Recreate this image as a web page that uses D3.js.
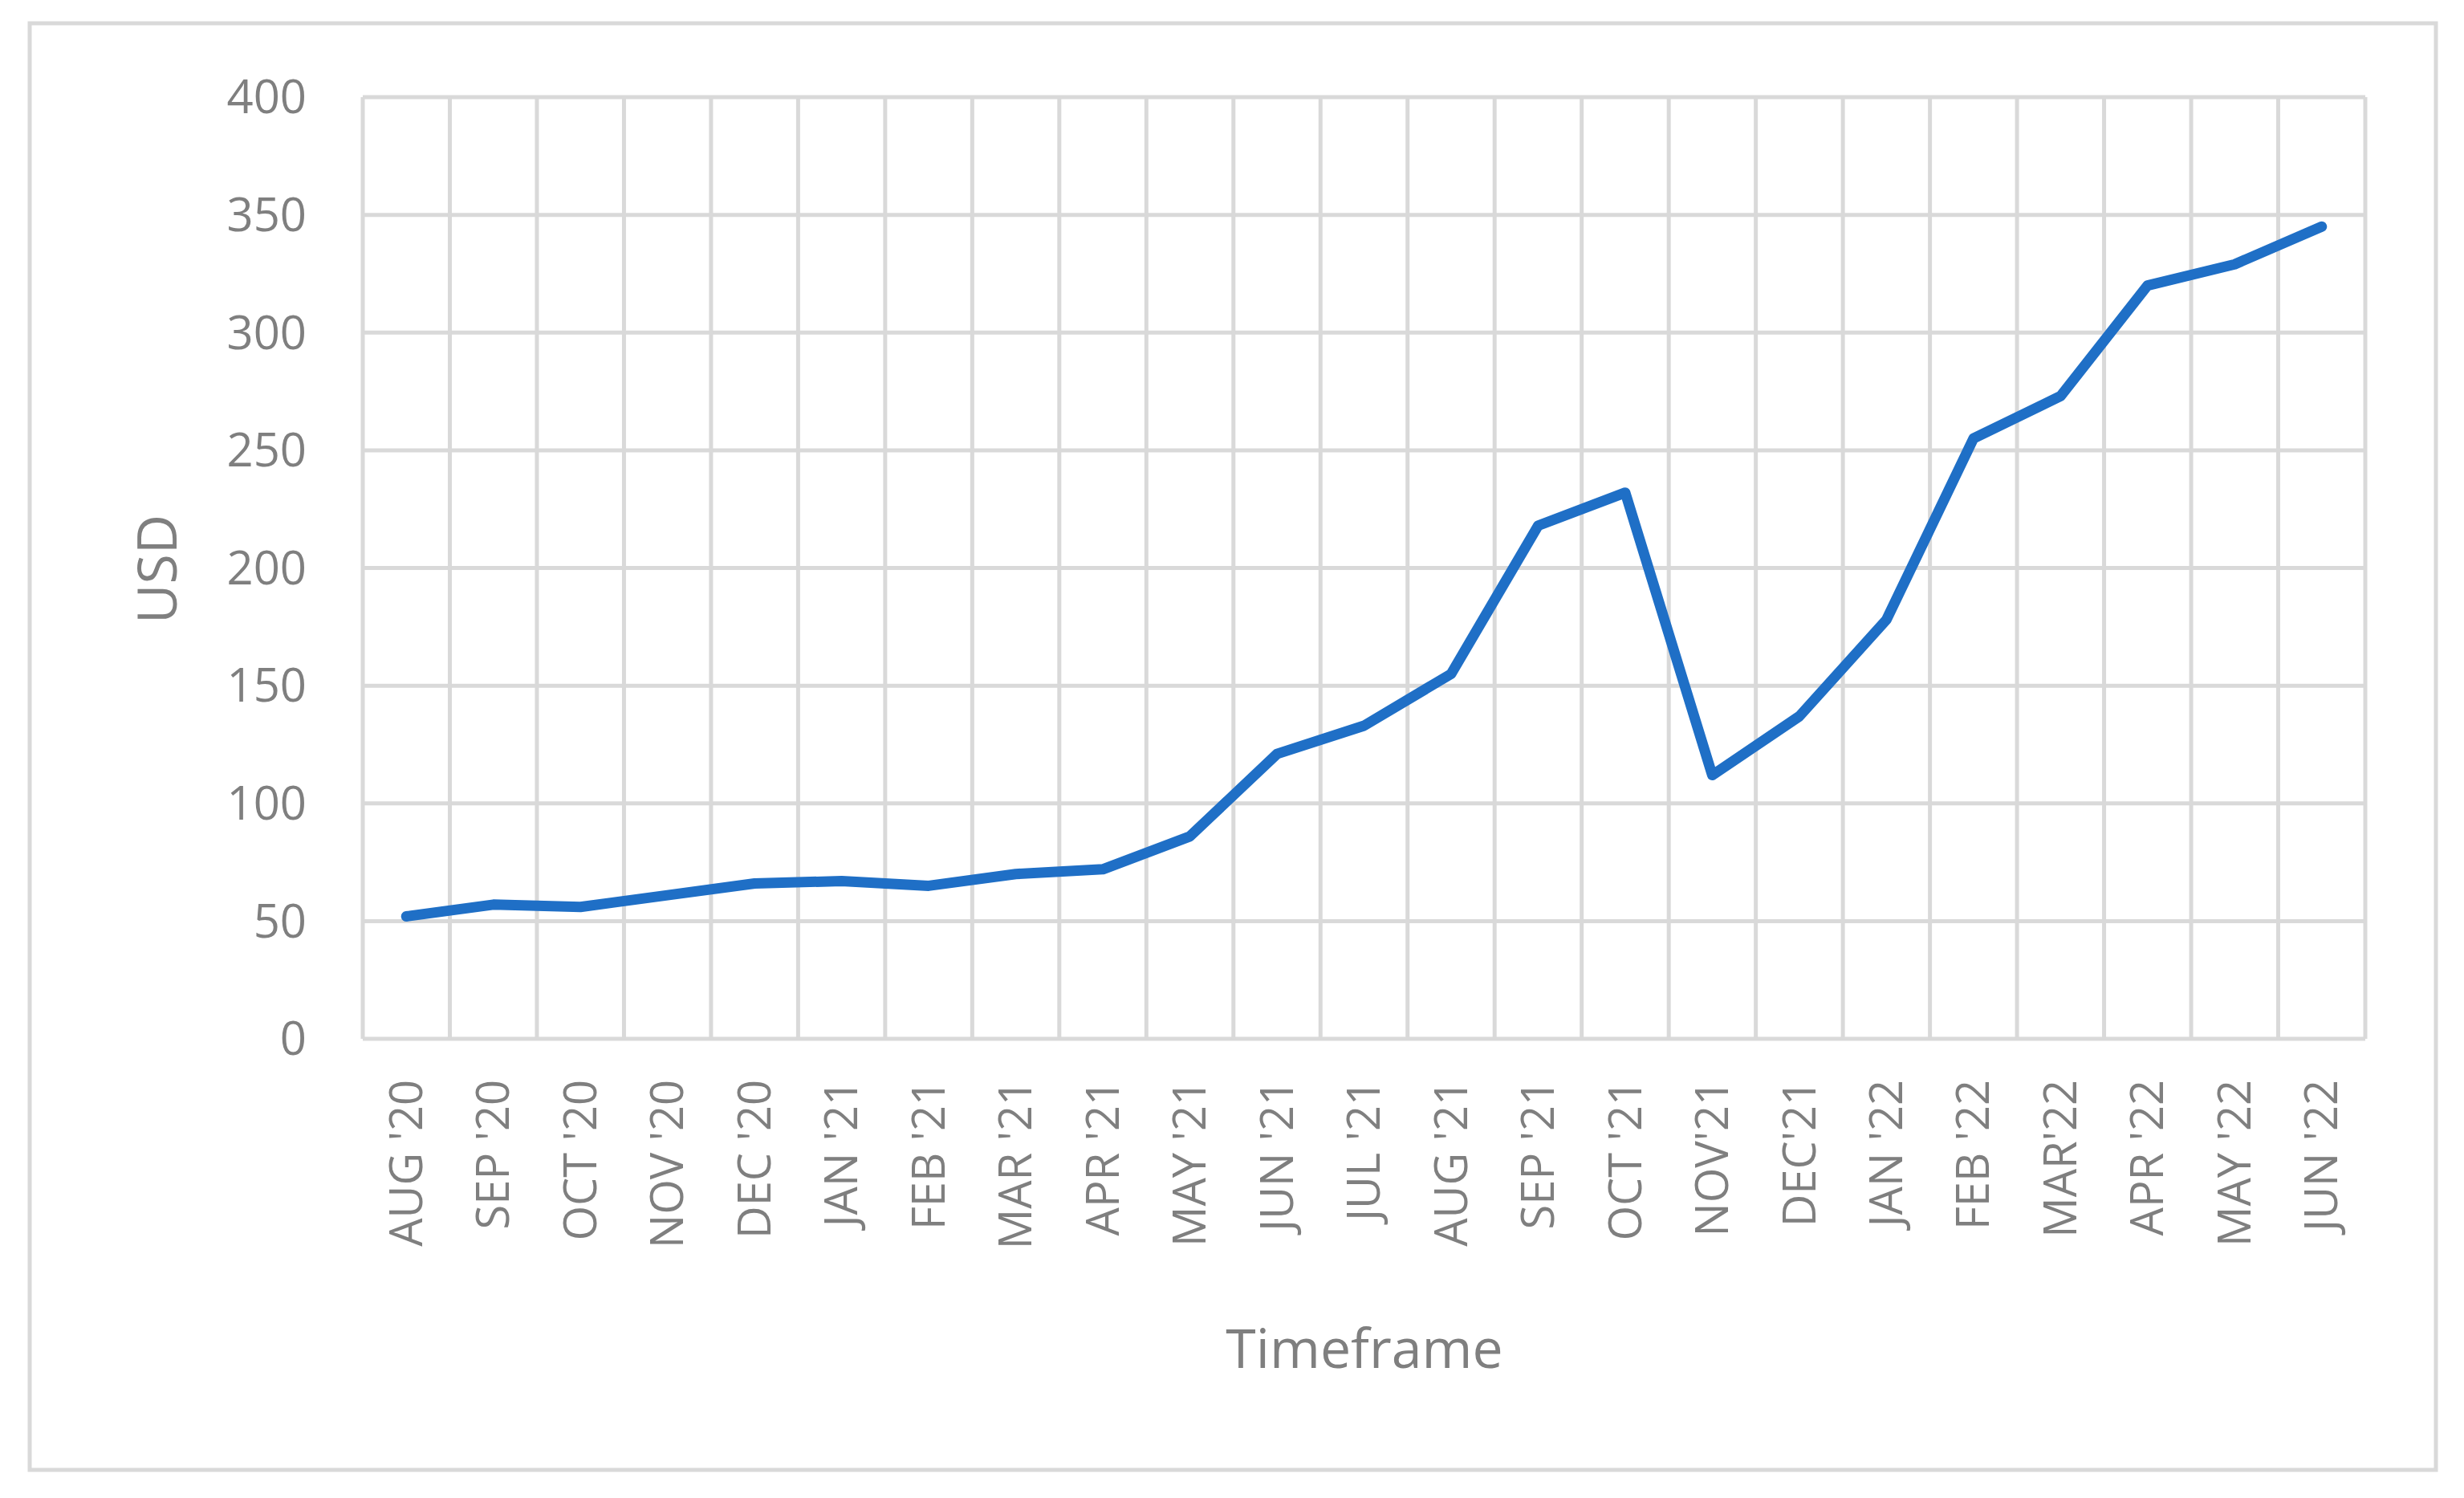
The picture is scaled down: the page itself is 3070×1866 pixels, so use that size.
<!DOCTYPE html>
<html>
<head>
<meta charset="utf-8">
<script src="https://cdn.jsdelivr.net/npm/d3@7"></script>
<style>
  body { margin: 0; background: #fff; }
  text { font-family: "Open Sans", Roboto, sans-serif; fill: #7f7f7f; }
</style>
</head>
<body>
<svg id="chart" width="3070" height="1866"></svg>
<script>
// months on the x axis
var months = ["AUG '20", "SEP '20", "OCT '20", "NOV '20", "DEC '20", "JAN '21", "FEB '21", "MAR '21",
  "APR '21", "MAY '21", "JUN '21", "JUL '21", "AUG '21", "SEP '21", "OCT '21", "NOV'21", "DEC'21",
  "JAN '22", "FEB '22", "MAR'22", "APR '22", "MAY '22", "JUN '22"];
// price in USD
var usd = [52, 57, 56, 61, 66, 67, 65, 70, 72, 86, 121, 133, 155, 218, 232, 112, 137, 178, 255, 273, 320, 329, 345];
var yTicks = [0, 50, 100, 150, 200, 250, 300, 350, 400];

var svg = d3.select("#chart");
var plotLeft = 452, plotRight = 2947, plotTop = 121, plotBottom = 1294;

// outer frame
svg.append("rect").attr("x", 37).attr("y", 29).attr("width", 2998).attr("height", 1802)
  .attr("fill", "none").attr("stroke", "#d9d9d9").attr("stroke-width", 5);

var x = d3.scaleBand().domain(months).range([plotLeft, plotRight]);
var y = d3.scaleLinear().domain([0, 400]).range([plotBottom, plotTop]);

// horizontal gridlines
svg.append("g").selectAll("line").data(yTicks).join("line")
  .attr("x1", plotLeft).attr("x2", plotRight)
  .attr("y1", d => y(d)).attr("y2", d => y(d))
  .attr("stroke", "#d9d9d9").attr("stroke-width", 5);

// vertical gridlines at category boundaries
var bounds = months.map(m => x(m)).concat([plotRight]);
svg.append("g").selectAll("line").data(bounds).join("line")
  .attr("x1", d => d).attr("x2", d => d)
  .attr("y1", plotTop).attr("y2", plotBottom)
  .attr("stroke", "#d9d9d9").attr("stroke-width", 5);

// y tick labels
svg.append("g").selectAll("text").data(yTicks).join("text")
  .attr("x", 382).attr("y", d => y(d)).attr("dy", "0.35em")
  .attr("text-anchor", "end").attr("font-size", 58).text(d => d);

// x tick labels, rotated
svg.append("g").selectAll("text").data(months).join("text")
  .attr("transform", d => `translate(${x(d) + x.bandwidth() / 2},1345) rotate(-90)`)
  .attr("text-anchor", "end").attr("dy", "0.35em")
  .attr("font-size", 56).text(d => d);

// axis titles
svg.append("text").attr("x", 1700).attr("y", 1680).attr("dy", "0.35em")
  .attr("text-anchor", "middle").attr("font-size", 68).text("Timeframe");
svg.append("text").attr("transform", "translate(196,709) rotate(-90)").attr("dy", "0.35em")
  .attr("text-anchor", "middle").attr("font-size", 68).text("USD");

// line
var line = d3.line().x((d, i) => x(months[i]) + x.bandwidth() / 2).y(d => y(d));
svg.append("path").datum(usd).attr("d", line)
  .attr("fill", "none").attr("stroke", "#1f6fc6").attr("stroke-width", 13)
  .attr("stroke-linejoin", "round").attr("stroke-linecap", "round");
</script>
</body>
</html>
